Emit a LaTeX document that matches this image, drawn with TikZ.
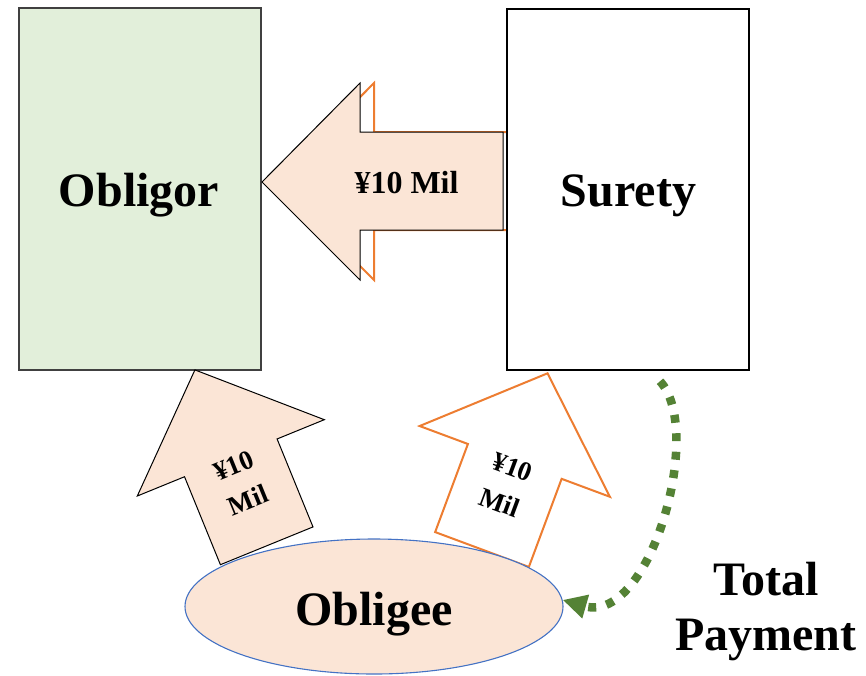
\documentclass[tikz,border=0pt]{standalone}
\usepackage{fontspec}
\setmainfont{Liberation Serif}
\usetikzlibrary{arrows.meta,shapes.geometric}
\definecolor{peach}{HTML}{FBE5D6}
\definecolor{sage}{HTML}{E2EFDA}
\definecolor{accentorange}{HTML}{ED7D31}
\definecolor{accentblue}{HTML}{4472C4}
\definecolor{leafgreen}{HTML}{548235}
\begin{document}
\begin{tikzpicture}[x=1pt,y=-1pt,
  party/.style={rectangle,inner sep=0pt,minimum width=242pt},
  title/.style={font=\bfseries\fontsize{48pt}{55pt}\selectfont,inner sep=0pt,align=center},
  amount/.style={font=\bfseries\fontsize{32pt}{38pt}\selectfont,inner sep=0pt},
  smallamount/.style={font=\bfseries\fontsize{27pt}{38pt}\selectfont,inner sep=0pt,align=center,transform shape},
  peacharrow/.style={fill=peach,draw=black,line width=1pt,line join=miter},
  hollowarrow/.style={fill=white,draw=accentorange,line width=2pt,line join=miter},
  payment/.style={leafgreen,line width=8.5pt,dash pattern=on 8pt off 10.5pt,
    -{Triangle[length=24pt,width=23pt]}}]
\useasboundingbox (0,0) rectangle (866,675);

% Obligor box
\node[party,draw=black!75,line width=1.3pt,fill=sage,minimum height=362pt] (obligor) at (140,189) {};
\node[title] (obligorlabel) at (139,195) {Obligor};

% outlined copy behind the main payment arrow
\draw[hollowarrow] (276,182) -- (374,83) -- (374,132) -- (517,132) -- (517,230)
  -- (374,230) -- (374,280) -- cycle;

% Surety box
\node[party,draw=black,line width=2.5pt,fill=white,minimum height=361pt] (surety) at (628,189.5) {};
\node[title] (suretylabel) at (628.5,195.4) {Surety};

% payment arrow from Surety to Obligor
\draw[peacharrow] (262,182) -- (360,83) -- (360,132) -- (503,132) -- (503,230)
  -- (360,230) -- (360,280) -- cycle;
\node[amount] (bigamount) at (406.5,182.4) {¥10 Mil};

% Obligee pays Obligor
\begin{scope}[shift={(266.7,545.8)},rotate=22.2]
  \draw[peacharrow] (-50,0) -- (-50,-95) -- (-101,-95) -- (0,-190) -- (101,-95)
    -- (50,-95) -- (50,0) -- cycle;
  \node[smallamount] (leftamount) at (0,-68) {¥10\\Mil};
\end{scope}

% Obligee pays Surety
\begin{scope}[shift={(482,549.5)},rotate=-20.4]
  \draw[hollowarrow] (-50,0) -- (-50,-94) -- (-101.5,-94) -- (0,-188) -- (101.5,-94)
    -- (50,-94) -- (50,0) -- cycle;
  \node[smallamount] (rightamount) at (0,-69) {¥10\\Mil};
\end{scope}

% Obligee
\node[ellipse,draw=accentblue,line width=1.1pt,fill=peach,inner sep=0pt,
  minimum width=378pt,minimum height=135pt] (obligee) at (374,606.5) {};
\node[title] (obligeelabel) at (374,614) {Obligee};

% total payment from Surety to Obligee
\coordinate (paystart) at ([xshift=32pt,yshift=-10pt]surety.south);
\draw[payment] (paystart) .. controls (705,430) and (650,625) .. (obligee.2);
\node[title] (totallabel) at (766,612) {Total\\Payment};
\end{tikzpicture}
\end{document}
